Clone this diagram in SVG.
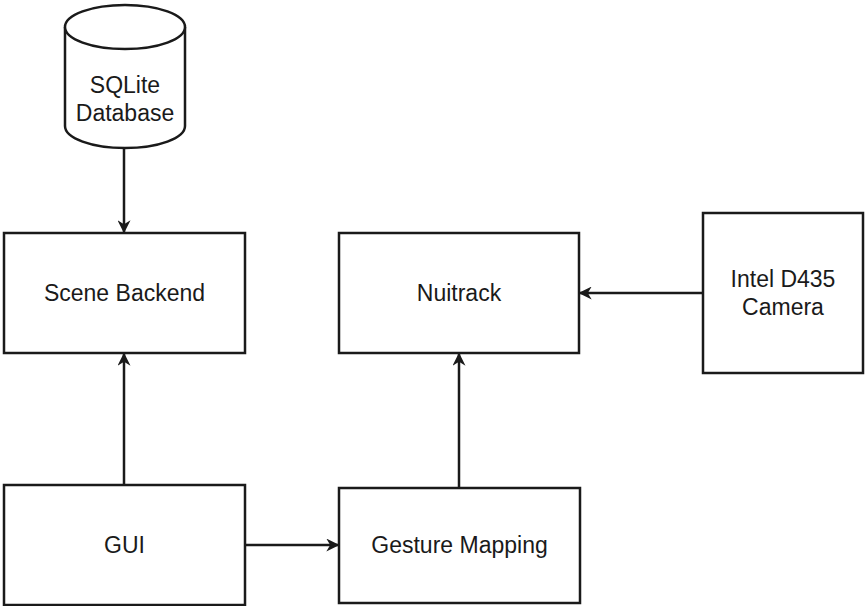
<svg xmlns="http://www.w3.org/2000/svg" width="865" height="606" viewBox="0 0 865 606">
<style>
.n{fill:#fff;stroke:#1a1a1a;stroke-width:2.5}
.t{font-family:"Liberation Sans",Arial,sans-serif;font-size:23px;fill:#1a1a1a;text-anchor:middle}
.c{stroke:#1a1a1a;stroke-width:2.5;fill:none;marker-end:url(#a)}
</style>
<defs>
<marker id="a" viewBox="0 0 10 10" refX="9" refY="5" markerWidth="13" markerHeight="13" markerUnits="userSpaceOnUse" orient="auto">
<path d="M0,0 L10,5 L0,10 L3,5 Z" fill="#1a1a1a"/>
</marker>
</defs>
<rect width="865" height="606" fill="#fff"/>
<g id="db">
<path class="n" d="M65,27 A60,22 0 0 1 185,27 L185,126 A60,22 0 0 1 65,126 Z"/>
<path class="n" d="M65,27 A60,22 0 0 0 185,27" fill="none"/>
<text class="t" x="125" y="93">SQLite</text>
<text class="t" x="125" y="121">Database</text>
</g>
<g id="scene">
<rect class="n" x="4" y="233" width="241" height="120"/>
<text class="t" x="124.5" y="301">Scene Backend</text>
</g>
<g id="nuitrack">
<rect class="n" x="339" y="233" width="240" height="120"/>
<text class="t" x="459" y="301">Nuitrack</text>
</g>
<g id="camera">
<rect class="n" x="703" y="213" width="160" height="160"/>
<text class="t" x="783" y="287">Intel D435</text>
<text class="t" x="783" y="315">Camera</text>
</g>
<g id="gui">
<rect class="n" x="4" y="485" width="241" height="120"/>
<text class="t" x="124.5" y="553">GUI</text>
</g>
<g id="gesture">
<rect class="n" x="339" y="488" width="241" height="115"/>
<text class="t" x="459.5" y="553">Gesture Mapping</text>
</g>
<g id="connectors">
<path class="c" d="M124,148 L124,232"/>
<path class="c" d="M124,485 L124,354"/>
<path class="c" d="M459,488 L459,354"/>
<path class="c" d="M703,293 L580,293"/>
<path class="c" d="M245,545 L338,545"/>
</g>
</svg>
